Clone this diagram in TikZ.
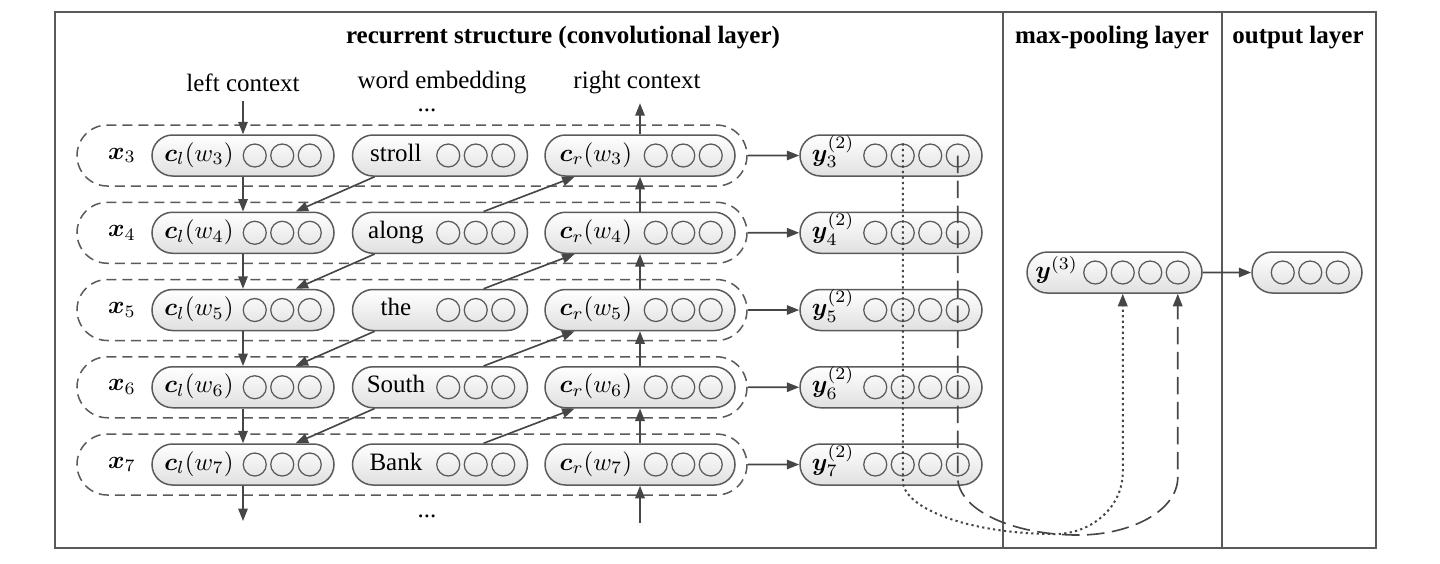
\documentclass[tikz,border=0pt]{standalone}
\usepackage[no-math]{fontspec}
\setmainfont{Liberation Serif}
\usepackage{bm}
\usetikzlibrary{arrows.meta,shapes.misc,calc}
\definecolor{linegray}{HTML}{464646}
\definecolor{boxgray}{HTML}{5A5A5A}
\definecolor{shadegray}{HTML}{E0E0E0}
\tikzset{
  vecbox/.style={rounded rectangle, draw=boxgray, line width=0.6pt, top color=white, bottom color=shadegray, minimum height=16.4pt, inner sep=0pt},
  unit/.style={circle, draw=boxgray, line width=0.5pt, minimum size=9.2pt, inner sep=0pt},
  vlabel/.style={inner sep=0pt, text height=7pt, text depth=2.5pt},
  rowframe/.style={rounded rectangle, draw=boxgray, line width=0.6pt, dash pattern=on 4pt off 2.4pt, minimum width=268pt, minimum height=24.4pt, inner sep=0pt},
  arrow/.style={-{Triangle[length=5pt,width=3.8pt]}, line width=0.65pt, draw=linegray},
  frame/.style={draw=boxgray, line width=0.7pt}
}
% box with units: name, x, y, width, label, number of units
\newcommand{\vecnode}[6]{%
  \node[vecbox, minimum width=#4] (#1) at (#2,#3) {};
  \foreach \k in {1,...,#6}
    \node[unit] (#1-\k) at ($(#1.east)+({-25-27.5*(#6-\k)},0)$) {};
  \node[vlabel] (#1-lab) at ($(#1.west)!0.5!(#1-1.west)+(2,0)$) {#5};
}

\begin{document}
\begin{tikzpicture}[x=0.4pt, y=-0.4pt, font=\fontsize{10}{12}\selectfont]
  \useasboundingbox (0,0) rectangle (1440,563);

  % frame and layer titles
  \draw[frame] (55,12) rectangle (1376,548);
  \draw[frame] (1003,12) -- (1003,548);
  \draw[frame] (1222,12) -- (1222,548);
  \node (ttlrec) at (563,38) {\textbf{recurrent structure (convolutional layer)}};
  \node (ttlpool) at (1112,38) {\textbf{max-pooling layer}};
  \node (ttlout) at (1298,38) {\textbf{output layer}};

  \node (lctx) at (243,83) {left context};
  \node (wemb) at (442,83) {word embedding};
  \node (rctx) at (637,83) {right context};
  \node[inner sep=0pt] (dotstop) at (427,110) {...};
  \node[inner sep=0pt] (dotsbot) at (427,516) {...};

  % rows
  \foreach \i/\word [evaluate=\i as \yy using {155.5+77.25*(\i-3)}] in {3/stroll,4/along,5/the,6/South,7/Bank} {
    \node[rowframe] (row\i) at (412,\yy) {};
    \node (x\i) at (122,\yy) {$\bm{x}_{\i}$};
    \vecnode{cl\i}{243}{\yy}{72.8pt}{$\bm{c}_l(w_{\i})$}{3}
    \vecnode{w\i}{440}{\yy}{70pt}{\word}{3}
    \vecnode{cr\i}{640}{\yy}{76pt}{$\bm{c}_r(w_{\i})$}{3}
    \vecnode{y\i}{891}{\yy}{72.8pt}{$\bm{y}_{\i}^{(2)}$}{4}
  }
  \vecnode{pool}{1114.5}{272.5}{70pt}{$\bm{y}^{(3)}$}{4}
  \vecnode{out}{1307}{272.5}{44pt}{}{3}

  % recurrent connections
  \draw[arrow] (cl3.north |- lctx.south) -- (cl3.north);
  \draw[arrow] (cr3.north) -- (cr3.north |- rctx.south);
  \foreach \i [count=\j from 4] in {3,...,6} {
    \draw[arrow] (cl\i) -- (cl\j);
    \draw[arrow] (cr\j) -- (cr\i);
    \draw[arrow] (w\i.198) -- (cl\j.22);
    \draw[arrow] (w\j.26) -- (cr\i.198);
  }
  \coordinate (ldown) at (243,521);
  \coordinate (rup) at (640,523);
  \draw[arrow] (cl7) -- (ldown);
  \draw[arrow] (rup) -- (cr7);
  \foreach \i in {3,...,7}
    \draw[arrow] (row\i) -- (y\i);

  % max-pooling
  \coordinate (dotlow) at (1055,534);
  \coordinate (dashlow) at (1078,535);
  \draw[arrow, line width=0.8pt, dash pattern=on 0.9pt off 1.3pt] (y3-2.north) -- ($(y3-2)+(0,325)$) .. controls +(0,28) and +(-85,0) .. (dotlow) .. controls +(37,0) and +(0,34) .. ($(pool-2)+(0,200)$) -- (pool-2 |- pool.south);
  \draw[arrow, dash pattern=on 7pt off 3pt] (y3-4.center) -- ($(y3-4)+(0,322)$) .. controls +(0,32) and +(-66,0) .. (dashlow) .. controls +(55,0) and +(0,32) .. ($(pool-4)+(0,205)$) -- (pool-4 |- pool.south);
  \draw[arrow] (pool) -- (out);
\end{tikzpicture}
\end{document}
